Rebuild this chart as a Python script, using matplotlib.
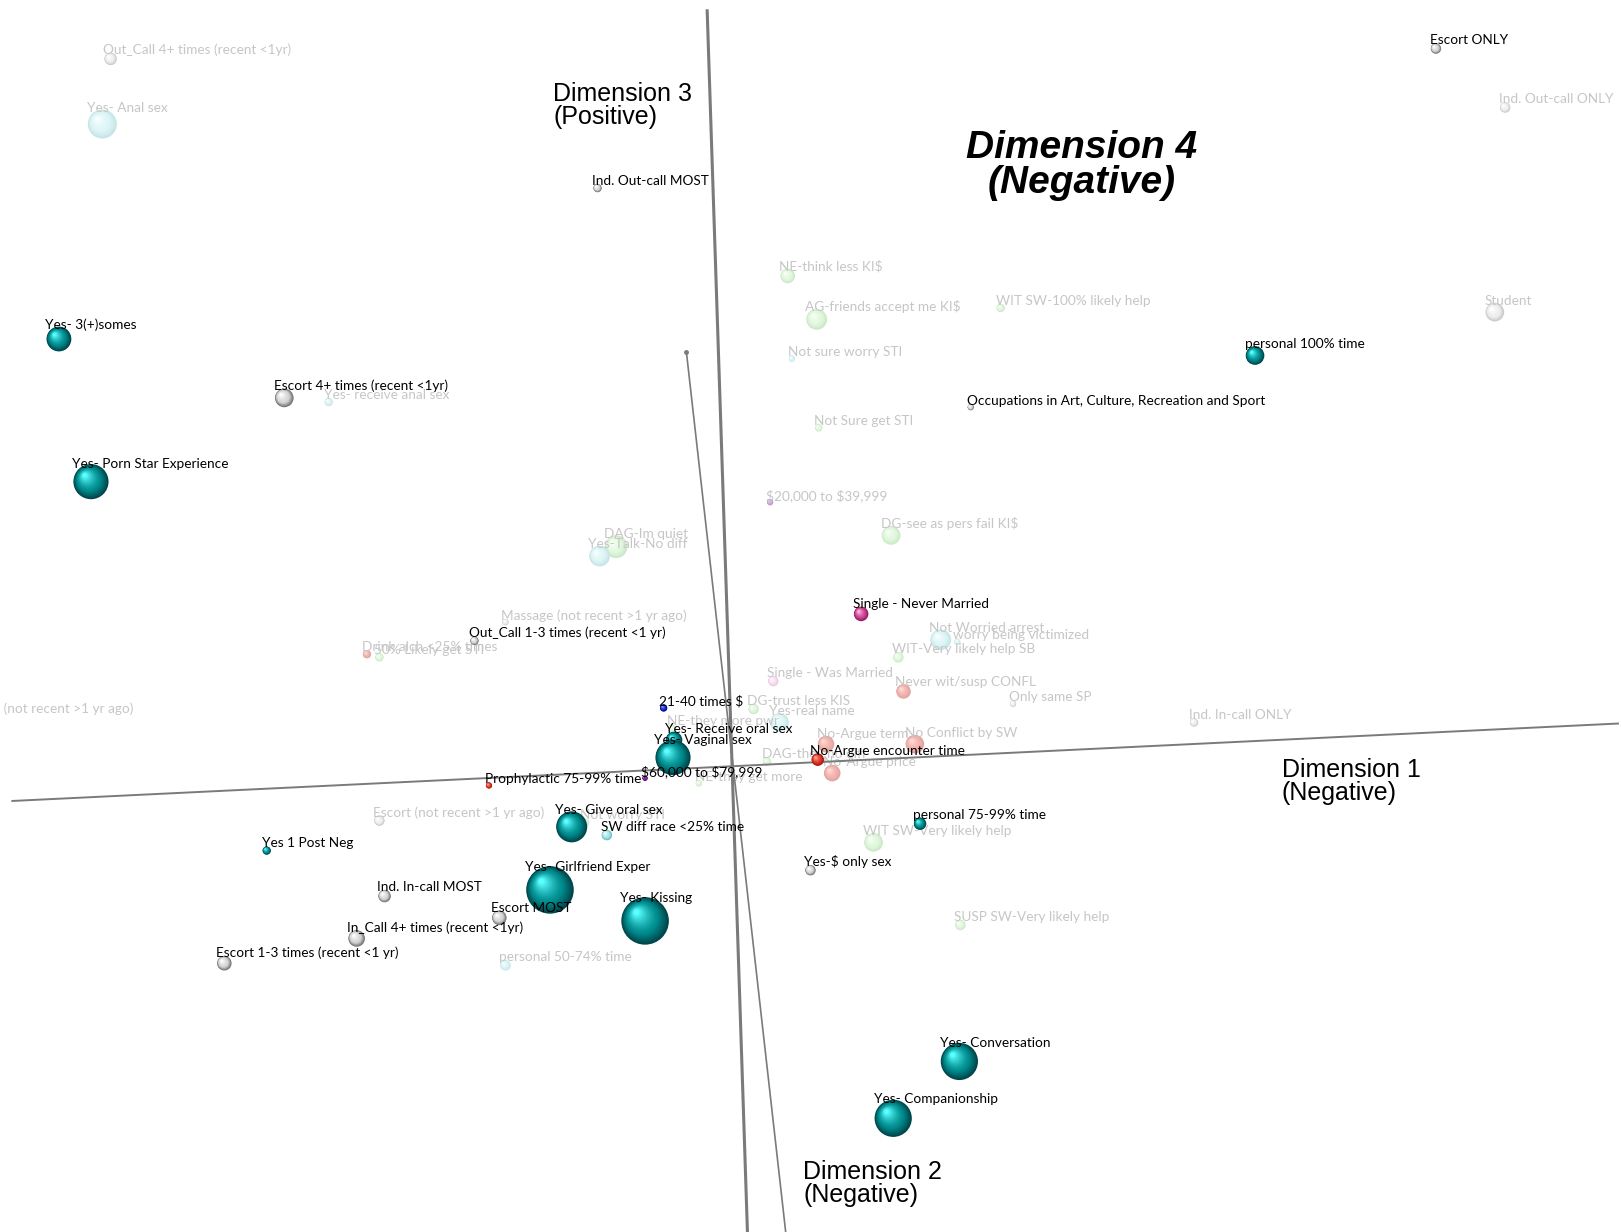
import matplotlib
matplotlib.use("Agg")
import matplotlib.pyplot as plt
from matplotlib.patches import Circle
import numpy as np

# ---------------- data (picture coordinates of the projected 3-D MCA plot) ----------------
# solid (highlighted) categories
solid_labels = [
    "Escort ONLY", "Ind. Out-call MOST", "Yes- 3(+)somes", "personal 100% time",
    "Occupations in Art, Culture, Recreation and Sport", "Escort 4+ times (recent <1yr)",
    "Yes- Porn Star Experience", "Single - Never Married", "Out_Call 1-3 times (recent <1 yr)",
    "21-40 times $", "Yes- Receive oral sex", "Yes- Vaginal sex", "No-Argue encounter time",
    "$60,000 to $79,999", "Prophylactic 75-99% time", "Yes- Give oral sex",
    "SW diff race <25% time", "Yes 1 Post Neg", "Yes- Girlfriend Exper", "Ind. In-call MOST",
    "Escort MOST", "Yes- Kissing", "In_Call 4+ times (recent <1yr)",
    "Escort 1-3 times (recent <1 yr)", "personal 75-99% time", "Yes-$ only sex",
    "Yes- Conversation", "Yes- Companionship",
]
solid_x = [1389, 578, 57, 1214, 939, 275, 88, 833, 459, 642, 652, 651, 791, 624, 473, 553,
           587, 258, 532, 372, 483, 624, 345, 217, 890, 784, 928, 864]
solid_y = [47, 182, 328, 344, 394, 385, 466, 594, 620, 685, 716, 733, 735, 753, 760, 800,
           808, 823, 861, 867, 888, 891, 908, 932, 797, 842, 1027, 1082]
solid_mass = [5, 4, 12, 9, 3, 9, 17, 7, 4, 3.5, 8, 17, 6, 2.5, 3, 15,
              5, 4, 23, 6, 7, 23, 8, 7, 6, 5, 18, 18]
solid_group = ["gray", "gray", "teal", "teal", "gray", "gray", "teal", "magenta", "gray",
               "blue", "teal", "teal", "red", "purple", "red", "teal",
               "cyan", "teal", "teal", "gray", "gray", "teal", "gray", "gray",
               "teal", "gray", "teal", "teal"]

# faded (background) categories
faded_labels = [
    "Out_Call 4+ times (recent <1yr)", "Yes- Anal sex", "Ind. Out-call ONLY", "Student",
    "NE-think less KI$", "AG-friends accept me KI$", "WIT SW-100% likely help",
    "Not sure worry STI", "Not Sure get STI", "$20,000 to $39,999", "DG-see as pers fail KI$",
    "DAG-Im quiet", "Yes-Talk-No diff", "Massage (not recent >1 yr ago)",
    "Drink alch <25% times", "50% Likely get STI", "In_Call (not recent >1 yr ago)",
    "Not Worried arrest", "worry being victimized", "WIT-Very likely help SB",
    "Single - Was Married", "Never wit/susp CONFL", "Only same SP", "Ind. In-call ONLY",
    "DG-trust less KIS", "Yes-real name", "NE-they more pwr", "No-Argue term",
    "No Conflict by SW", "DAG-they no diff", "No-Argue price", "NE-they get more",
    "Escort (not recent >1 yr ago)", "Not worry STI", "WIT SW-Very likely help",
    "SUSP SW-Very likely help", "personal 50-74% time", "Yes- receive anal sex",
]
faded_x = [107, 99, 1456, 1446, 762, 790, 968, 766, 792, 745, 862, 596, 580, 489, 355, 367,
           -33, 910, 926, 869, 748, 874, 980, 1155, 729, 754, 650, 799, 885, 742, 805, 676,
           367, 566, 845, 929, 489, 318]
faded_y = [57, 120, 104, 302, 267, 309, 298, 347, 414, 486, 518, 529, 538, 602, 633, 636,
           694, 619, 621, 636, 659, 669, 681, 699, 686, 699, 705, 720, 720, 737, 748, 758,
           794, 796, 815, 895, 934, 389]
faded_mass = [6, 14, 5, 9, 7, 10, 4, 3, 3.5, 3, 9, 11, 10, 3, 4, 4,
              5, 10, 3, 5, 5, 7, 3, 4, 5, 9, 4, 8, 9, 4, 8, 3,
              5, 4, 9, 5, 5, 4]
faded_group = ["gray", "cyan", "gray", "gray", "green", "green", "green", "cyan", "green",
               "purple", "green", "green", "cyan", "gray", "red", "green", "gray", "cyan",
               "cyan", "green", "pink", "red", "gray", "gray", "green", "cyan", "green",
               "red", "red", "green", "red", "green", "gray", "green", "green", "green",
               "cyan", "cyan"]

# principal axes of the projection (start / end points)
axis_x0 = [11, 684, 664]
axis_y0 = [775, 9, 341]
axis_x1 = [1566, 723, 760]
axis_y1 = [700, 1192, 1192]

# ---------------- styles ----------------
PAL = {  # edge, base, highlight
    "teal":    ((0, 70, 75), (0, 140, 142), (90, 255, 255)),
    "gray":    ((115, 115, 115), (212, 212, 212), (255, 255, 255)),
    "red":     ((165, 20, 10), (225, 55, 40), (255, 165, 145)),
    "magenta": ((145, 25, 95), (205, 70, 150), (255, 185, 228)),
    "blue":    ((0, 0, 120), (20, 40, 215), (130, 150, 255)),
    "purple":  ((80, 0, 100), (135, 25, 165), (205, 125, 235)),
    "cyan":    ((105, 185, 190), (165, 228, 232), (235, 255, 255)),
    "green":   ((120, 195, 110), (175, 235, 165), (240, 255, 235)),
    "pink":    ((200, 110, 170), (238, 175, 218), (255, 240, 250)),
}

W, H = 1568, 1192
fig = plt.figure(figsize=(16.21, 12.32), dpi=100)
ax = fig.add_axes([0, 0, 1, 1])
ax.set_xlim(0, W)
ax.set_ylim(H, 0)
ax.axis("off")


def mix(a, b, t):
    return tuple((np.array(a) * (1 - t) + np.array(b) * t) / 255.0)


def sphere(x, y, r, group, fade, z):
    edge, base, hi = PAL[group]
    n = 16
    for k in range(n):
        t = k / (n - 1)
        rr = r * (1 - 0.88 * t)
        cx = x - 0.36 * r * t
        cy = y - 0.36 * r * t
        if t < 0.35:
            col = mix(edge, base, t / 0.35)
        else:
            col = mix(base, hi, ((t - 0.35) / 0.65) ** 1.3)
        col = tuple(np.array(col) * (1 - fade) + fade)
        ax.add_patch(Circle((cx, cy), rr, facecolor=col, edgecolor="none", zorder=z))


LABEL_FONT = dict(family=["Lato", "DejaVu Sans"], fontsize=9.8, parse_math=False)

# faded categories (background)
for lab, x, y, r, g in zip(faded_labels, faded_x, faded_y, faded_mass, faded_group):
    sphere(x, y, r, g, 0.62, 1)
    ax.text(x - r - 1, y - 0.8 * r, lab, color="#c6c6c6", ha="left", va="baseline",
            zorder=2, **LABEL_FONT)

# projected axes
widths = [1.4, 2.2, 1.2]
for x0, y0, x1, y1, lw in zip(axis_x0, axis_y0, axis_x1, axis_y1, widths):
    ax.plot([x0, x1], [y0, y1], color="#7a7a7a", lw=lw, zorder=3, solid_capstyle="butt")
ax.plot([axis_x0[2]], [axis_y0[2]], "o", color="#7a7a7a", ms=2.5, zorder=3)

# solid categories (draw small first so large spheres sit on top)
order = np.argsort(solid_mass)
for i in order:
    sphere(solid_x[i], solid_y[i], solid_mass[i], solid_group[i], 0.0, 4)
for lab, x, y, r in zip(solid_labels, solid_x, solid_y, solid_mass):
    ax.text(x - r - 1, y - 0.8 * r, lab, color="black", ha="left", va="baseline",
            zorder=6, **LABEL_FONT)

# axis titles
AX_FONT = dict(family=["Liberation Sans", "DejaVu Sans"], fontsize=18, linespacing=0.95,
               color="black", zorder=7)
ax.text(535, 102, "Dimension 3\n(Positive)", ha="left", va="center", **AX_FONT)
ax.text(1240, 756, "Dimension 1\n(Negative)", ha="left", va="center", **AX_FONT)
ax.text(777, 1145, "Dimension 2\n(Negative)", ha="left", va="center", **AX_FONT)
ax.text(1046, 160, "Dimension 4\n(Negative)", ha="center", va="center",
        multialignment="center", family=["Liberation Sans", "DejaVu Sans"], fontsize=28,
        fontweight="bold", fontstyle="italic", linespacing=0.95, color="black", zorder=7)

fig.savefig("out.png", dpi=100, facecolor="white")
